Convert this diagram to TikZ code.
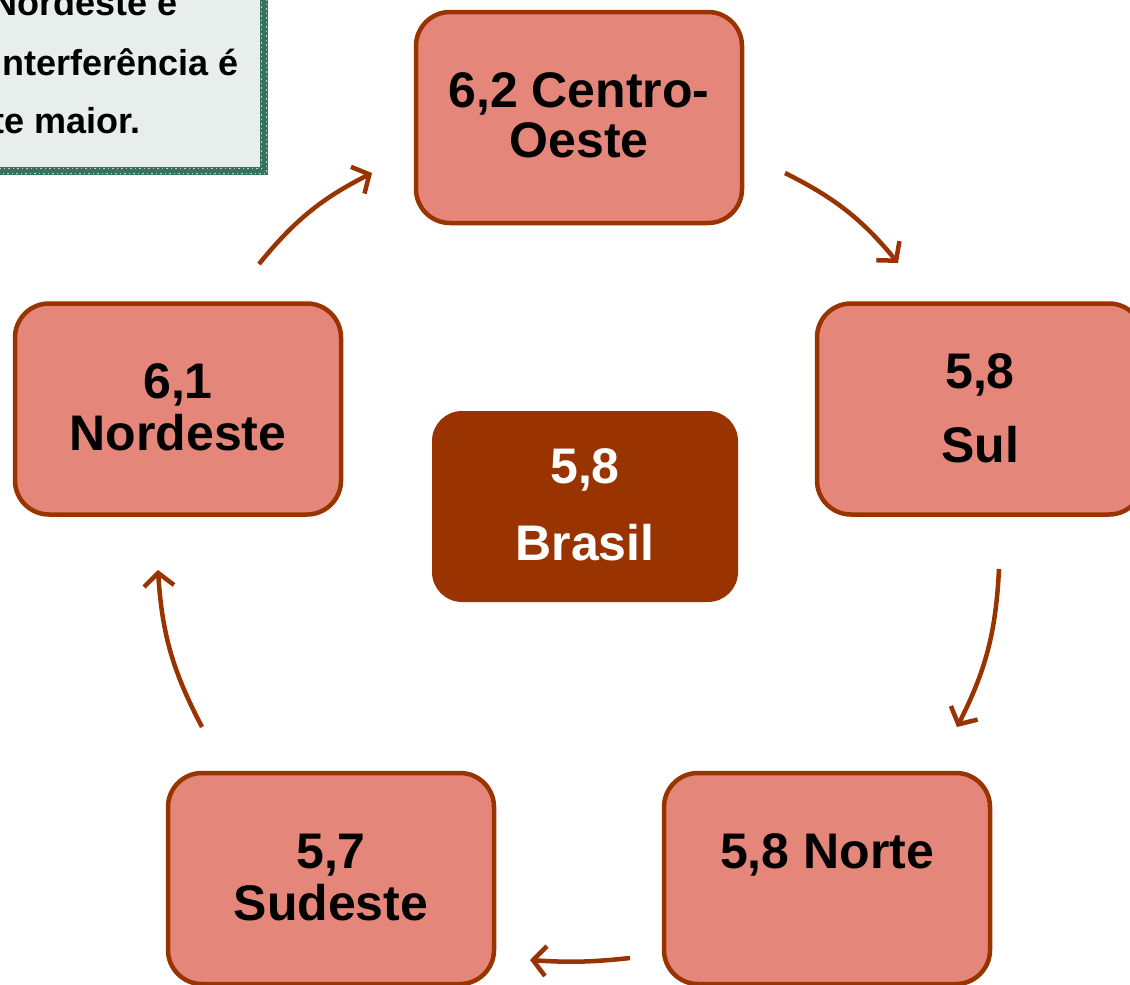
\documentclass[tikz,border=0pt]{standalone}
\usepackage{fontspec}
\setmainfont{Liberation Sans}
\usetikzlibrary{arrows.meta}
\definecolor{brn}{RGB}{153,51,0}
\definecolor{salmon}{RGB}{228,135,122}
\definecolor{notefill}{RGB}{232,238,236}
\definecolor{notegreen}{RGB}{52,116,92}
\tikzset{
  region/.style={draw=brn, line width=4.5pt, fill=salmon, rounded corners=34pt,
    minimum width=326pt, minimum height=211pt, inner sep=0pt},
  hub/.style={fill=brn, rounded corners=30pt, minimum width=306pt,
    minimum height=191pt, inner sep=0pt},
  lbl/.style={font=\fontsize{50}{52}\selectfont\bfseries, anchor=base, inner sep=0pt},
  hublbl/.style={lbl, text=white},
  notetxt/.style={font=\fontsize{36}{40}\selectfont\bfseries, anchor=base east, inner sep=0pt},
  cyc/.style={draw=brn, line width=4.5pt,
    -{Straight Barb[length=13pt,width=30pt,line width=4.5pt]}}
}
\begin{document}
\begin{tikzpicture}[x=1pt,y=-1pt]
\useasboundingbox (0,0) rectangle (1130,985);
\begin{scope}
\clip (0,0) rectangle (1130,985);
% note box (cropped)
\fill[notefill] (-30,-30) rectangle (264,171);
\draw[notegreen, line width=8pt] (264,-30) -- (264,171) -- (-30,171);
\draw[white!70!notegreen, line width=1.5pt, dash pattern=on 1.5pt off 3pt] (261.5,-30) -- (261.5,168.5) -- (-30,168.5);
\draw[white!70!notegreen, line width=1.5pt, dash pattern=on 1.5pt off 3pt, dash phase=2.2pt] (266.5,-30) -- (266.5,173.5) -- (-30,173.5);
\node[notetxt] (n1) at (178,15) {Nordeste é};
\node[notetxt] (n2) at (239,75) {interferência é};
\node[notetxt] (n3) at (141,133) {te maior.};
% boxes
\node[region] (co) at (579,117.5) {};
\node[region] (sul) at (980,409) {};
\node[region] (ne) at (178,409) {};
\node[region] (no) at (827,878.5) {};
\node[region] (se) at (331,878.5) {};
\node[hub] (br) at (585,506.5) {};
% labels
\node[lbl] (coA) at (579,107) {6,2 Centro-};
\node[lbl] (coB) at (579,157) {Oeste};
\node[lbl] (sulA) at (980,388) {5,8};
\node[lbl] (sulB) at (980,462) {Sul};
\node[lbl] (neA) at (178,398) {6,1};
\node[lbl] (neB) at (178,450) {Nordeste};
\node[lbl] (noA) at (827,868) {5,8 Norte};
\node[lbl] (seA) at (331,868) {5,7};
\node[lbl] (seB) at (331,920) {Sudeste};
\node[hublbl] (brA) at (585,483) {5,8};
\node[hublbl] (brB) at (585,560) {Brasil};
% connectors
\coordinate (a1s) at (259,264); \coordinate (a1e) at (372,173);
\coordinate (a2s) at (785,173); \coordinate (a2e) at (898,263);
\coordinate (a3s) at (999,569); \coordinate (a3e) at (957,727);
\coordinate (a4s) at (630,958); \coordinate (a4e) at (530,960);
\coordinate (a5s) at (202,727); \coordinate (a5e) at (158,570);
\draw[cyc] (a1s) to[bend left=12] (a1e);
\draw[cyc] (a2s) to[bend left=12] (a2e);
\draw[cyc] (a3s) to[bend left=12] (a3e);
\draw[cyc] (a4s) to[bend left=5] (a4e);
\draw[cyc] (a5s) to[bend left=12] (a5e);
\end{scope}
\end{tikzpicture}
\end{document}
